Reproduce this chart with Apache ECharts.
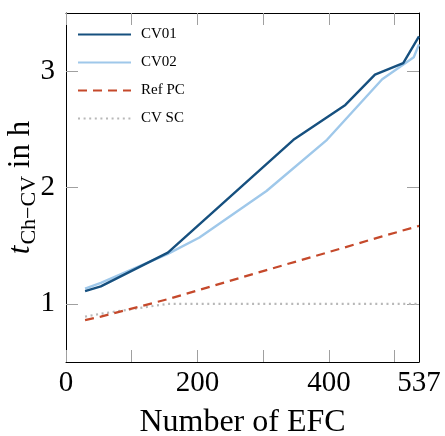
<!DOCTYPE html>
<html>
<head>
<meta charset="utf-8">
<script src="https://cdn.jsdelivr.net/npm/echarts@6/dist/echarts.min.js"></script>
<style>html,body{margin:0;padding:0;background:#fff}#c{width:445px;height:436px}</style>
</head>
<body>
<div id="c"></div>
<script>
// Data
var seriesNames = ['CV01', 'CV02', 'Ref PC', 'CV SC'];
var efcCV01 = [29, 53, 155, 346, 425, 470, 513, 537];
var tCV01   = [1.11, 1.15, 1.44, 2.41, 2.71, 2.97, 3.07, 3.30];
var efcCV02 = [29, 53, 155, 203, 305, 397, 481, 529, 537];
var tCV02   = [1.13, 1.18, 1.43, 1.57, 1.97, 2.41, 2.93, 3.12, 3.23];
var efcRef  = [29, 53, 155, 203, 305, 397, 481, 537];
var tRef    = [0.86, 0.89, 1.04, 1.12, 1.29, 1.44, 1.58, 1.67];
var efcSC   = [29, 53, 155, 203, 305, 397, 481, 537];
var tSC     = [0.89, 0.915, 1.0, 1.0, 1.0, 1.0, 1.0, 1.0];
var xTicks  = [0, 100, 200, 300, 400, 500];
var xLabels = [0, 200, 400, 537];
var yTicks  = [1, 2, 3];

function pairs(xs, ys) { return xs.map(function (x, i) { return [x, ys[i]]; }); }

var serif = 'Liberation Serif';
var chart = echarts.init(document.getElementById('c'), null, {renderer: 'canvas'});
var axisCommonX = {
  type: 'value', min: 0, max: 537,
  axisLine: {show: true, onZero: false, lineStyle: {color: '#000', width: 1}},
  axisTick: {show: true, inside: true, length: 12, customValues: xTicks, lineStyle: {color: '#a0a0a0', width: 1}},
  splitLine: {show: false}
};
var axisCommonY = {
  type: 'value', min: 0.5, max: 3.5,
  axisLine: {show: true, onZero: false, lineStyle: {color: '#000', width: 1}},
  axisTick: {show: true, inside: true, length: 12, customValues: yTicks, lineStyle: {color: '#a0a0a0', width: 1}},
  splitLine: {show: false}
};
chart.setOption({
  animation: false,
  backgroundColor: '#fff',
  grid: {left: 66, right: 26, top: 13, bottom: 74, containLabel: false, outerBoundsMode: 'none'},
  legend: {
    orient: 'vertical', left: 77, top: 27, padding: 0, itemGap: 13,
    itemWidth: 53, itemHeight: 14,
    data: seriesNames,
    itemStyle: {opacity: 0, borderWidth: 0},
    textStyle: {fontFamily: serif, fontSize: 15, color: '#000', lineHeight: 14, padding: [0, 0, 0, 5]}
  },
  xAxis: [
    Object.assign({}, axisCommonX, {
      position: 'bottom',
      name: 'Number of EFC', nameLocation: 'middle', nameGap: 45, nameMoveOverlap: false,
      nameTextStyle: {fontFamily: serif, fontSize: 32, color: '#000'},
      axisLabel: {show: true, customValues: xLabels, margin: 7, fontFamily: serif, fontSize: 29, color: '#000'}
    }),
    Object.assign({}, axisCommonX, {position: 'top', axisLabel: {show: false}})
  ],
  yAxis: [
    Object.assign({}, axisCommonY, {
      position: 'left',
      name: '{t|t}{s|Ch\u2212CV}{n| in h}', nameLocation: 'middle', nameGap: 30, nameMoveOverlap: false,
      nameTextStyle: {
        color: '#000',
        rich: {
          t: {fontFamily: serif, fontStyle: 'italic', fontSize: 31, lineHeight: 31, verticalAlign: 'top', color: '#000'},
          s: {fontFamily: serif, fontSize: 22, lineHeight: 22, padding: [13, 0, 0, 1], verticalAlign: 'top', color: '#000'},
          n: {fontFamily: serif, fontSize: 31, lineHeight: 31, verticalAlign: 'top', color: '#000'}
        }
      },
      axisLabel: {show: true, customValues: yTicks, margin: 11, fontFamily: serif, fontSize: 29, color: '#000'}
    }),
    Object.assign({}, axisCommonY, {position: 'right', axisLabel: {show: false}})
  ],
  series: [
    {name: 'CV01', type: 'line', data: pairs(efcCV01, tCV01), symbol: 'none', z: 4,
     lineStyle: {color: '#16507f', width: 2.4}, itemStyle: {color: '#16507f'}},
    {name: 'CV02', type: 'line', data: pairs(efcCV02, tCV02), symbol: 'none', z: 3,
     lineStyle: {color: '#9fc8ea', width: 2.4}, itemStyle: {color: '#9fc8ea'}},
    {name: 'Ref PC', type: 'line', data: pairs(efcRef, tRef), symbol: 'none', z: 2,
     lineStyle: {color: '#c5492b', width: 2.2, type: [9, 6]}, itemStyle: {color: '#c5492b'}},
    {name: 'CV SC', type: 'line', data: pairs(efcSC, tSC), symbol: 'none', z: 1,
     lineStyle: {color: '#b8b8b8', width: 2.2, type: [2, 3.6]}, itemStyle: {color: '#b8b8b8'}}
  ]
});
</script>
</body>
</html>
